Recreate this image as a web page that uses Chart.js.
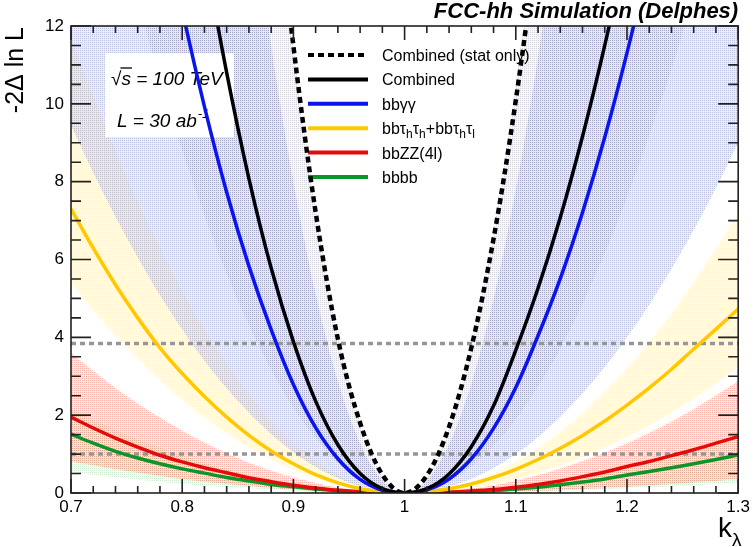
<!DOCTYPE html>
<html>
<head>
<meta charset="utf-8">
<script src="https://cdn.jsdelivr.net/npm/chart.js@4.4.0/dist/chart.umd.min.js"></script>
<style>
html, body { margin: 0; padding: 0; background: #fff; }
#wrap { width: 754px; height: 547px; }
</style>
</head>
<body>
<div id="wrap"><canvas id="nll" width="754" height="547"></canvas></div>
<script>
// k_lambda scan points
var kl = [0.70, 0.72, 0.74, 0.76, 0.78, 0.80, 0.82, 0.84, 0.86, 0.88, 0.90, 0.92, 0.94, 0.96, 0.98, 1.00,
          1.02, 1.04, 1.06, 1.08, 1.10, 1.12, 1.14, 1.16, 1.18, 1.20, 1.22, 1.24, 1.26, 1.28, 1.30];

// -2 Delta ln L curves
var statOnly = [112, 97, 83, 70, 58.5, 48, 38.5, 30.2, 23, 16.8, 11.49, 7.22, 3.96, 1.80, 0.47, 0,
                0.45, 1.70, 3.73, 6.53, 10.09, 14.4, 19.5, 25.3, 32, 39, 47, 56, 65.5, 76, 87];
var combined = [40, 35, 30, 25.4, 21.2, 17.4, 13.94, 10.80, 8.08, 5.78, 3.89, 2.36, 1.24, 0.50, 0.11, 0,
                0.11, 0.49, 1.19, 2.24, 3.67, 5.26, 7.08, 9.16, 11.50, 14.1, 16.9, 20, 23.3, 27, 31];
var bbgg = [28.8, 25, 21.5, 18.2, 15.2, 12.41, 9.93, 7.73, 5.83, 4.20, 2.79, 1.68, 0.88, 0.35, 0.07, 0,
            0.08, 0.36, 0.88, 1.66, 2.71, 4.04, 5.51, 7.21, 9.14, 11.31, 13.7, 16.3, 19.1, 22.2, 25.5];
var bbtt = [7.30, 6.29, 5.35, 4.50, 3.73, 3.07, 2.48, 1.95, 1.48, 1.08, 0.75, 0.47, 0.26, 0.11, 0.03, 0,
            0.03, 0.11, 0.23, 0.40, 0.61, 0.86, 1.15, 1.48, 1.85, 2.26, 2.70, 3.18, 3.70, 4.21, 4.73];
var bbzz = [1.95, 1.67, 1.41, 1.18, 0.97, 0.80, 0.65, 0.52, 0.39, 0.29, 0.20, 0.13, 0.07, 0.03, 0.01, 0,
            0.00, 0.02, 0.05, 0.09, 0.15, 0.22, 0.31, 0.42, 0.54, 0.68, 0.81, 0.96, 1.11, 1.28, 1.45];
var bbbb = [1.51, 1.28, 1.07, 0.90, 0.75, 0.62, 0.51, 0.40, 0.31, 0.22, 0.16, 0.10, 0.06, 0.02, 0.01, 0,
            0.00, 0.01, 0.03, 0.06, 0.10, 0.15, 0.21, 0.28, 0.36, 0.46, 0.55, 0.65, 0.75, 0.86, 0.98];

// uncertainty bands (upper / lower edge)
var combHi = [103.5, 90.2, 77.7, 66.2, 55.7, 46, 37.3, 29.4, 22.5, 16.6, 11.5, 7.36, 4.14, 1.84, 0.46, 0,
              0.42, 1.68, 3.78, 6.72, 10.5, 15.1, 20.6, 26.9, 34.0, 42, 50.8, 60.5, 71, 82.3, 94.5];
var combLo = [19.8, 17.2, 14.9, 12.7, 10.6, 8.8, 7.13, 5.63, 4.31, 3.17, 2.2, 1.41, 0.79, 0.35, 0.09, 0,
              0.08, 0.30, 0.68, 1.22, 1.9, 2.74, 3.72, 4.86, 6.16, 7.6, 9.2, 10.9, 12.8, 14.9, 17.1];
var bbggHi = [72, 62.7, 54.1, 46.1, 38.7, 32, 25.9, 20.5, 15.7, 11.5, 8, 5.12, 2.88, 1.28, 0.32, 0,
              0.31, 1.25, 2.81, 4.99, 7.8, 11.2, 15.3, 20, 25.3, 31.2, 37.8, 44.9, 52.7, 61.2, 70.2];
var bbggLo = [9.45, 8.23, 7.1, 6.05, 5.08, 4.2, 3.4, 2.69, 2.06, 1.51, 1.05, 0.67, 0.38, 0.17, 0.04, 0,
              0.04, 0.16, 0.36, 0.64, 1, 1.44, 1.96, 2.56, 3.24, 4, 4.84, 5.76, 6.76, 7.84, 9];
var bbttHi = [11.7, 10.2, 8.79, 7.49, 6.29, 5.2, 4.21, 3.33, 2.55, 1.87, 1.3, 0.83, 0.47, 0.21, 0.05, 0,
              0.03, 0.13, 0.29, 0.51, 0.8, 1.15, 1.57, 2.05, 2.59, 3.2, 3.87, 4.61, 5.41, 6.27, 7.2];
var bbttLo = [5.4, 4.7, 4.06, 3.46, 2.9, 2.4, 1.94, 1.54, 1.18, 0.86, 0.6, 0.38, 0.22, 0.1, 0.02, 0,
              0.01, 0.06, 0.13, 0.23, 0.36, 0.52, 0.71, 0.92, 1.17, 1.44, 1.74, 2.07, 2.43, 2.82, 3.24];
var bbzzHi = [3.6, 3.14, 2.7, 2.3, 1.94, 1.6, 1.3, 1.02, 0.78, 0.58, 0.4, 0.26, 0.14, 0.06, 0.02, 0,
              0.01, 0.05, 0.12, 0.2, 0.32, 0.46, 0.63, 0.82, 1.04, 1.28, 1.55, 1.84, 2.16, 2.51, 2.88];
var bbzzLo = [0.81, 0.71, 0.61, 0.52, 0.44, 0.36, 0.29, 0.23, 0.18, 0.13, 0.09, 0.06, 0.03, 0.01, 0, 0,
              0, 0.01, 0.01, 0.03, 0.04, 0.06, 0.08, 0.1, 0.13, 0.16, 0.19, 0.23, 0.27, 0.31, 0.36];
var bbbbHi = [2.16, 1.88, 1.62, 1.38, 1.16, 0.96, 0.78, 0.61, 0.47, 0.35, 0.24, 0.15, 0.09, 0.04, 0.01, 0,
              0.01, 0.03, 0.06, 0.11, 0.17, 0.24, 0.33, 0.44, 0.55, 0.68, 0.82, 0.98, 1.15, 1.33, 1.53];
var bbbbLo = [0.54, 0.47, 0.41, 0.35, 0.29, 0.24, 0.19, 0.15, 0.12, 0.09, 0.06, 0.04, 0.02, 0.01, 0, 0,
              0, 0, 0.01, 0.02, 0.03, 0.04, 0.06, 0.08, 0.1, 0.12, 0.15, 0.17, 0.2, 0.24, 0.27];

// 1 sigma / 95% CL lines
var thresholds = [1, 3.84];

var xTickVals = [0.7, 0.8, 0.9, 1.0, 1.1, 1.2, 1.3];
var xTickLabels = ['0.7', '0.8', '0.9', '1', '1.1', '1.2', '1.3'];
var yTickVals = [0, 2, 4, 6, 8, 10, 12];
var yTickLabels = ['0', '2', '4', '6', '8', '10', '12'];

var FONT = "'Liberation Sans', Arial, sans-serif";

var canvas = document.getElementById('nll');
var ctx = canvas.getContext('2d');

function pts(arr) {
    return kl.map(function (x, i) { return { x: x, y: arr[i] }; });
}

// ROOT-like dotted fill
function dots(rgb, aDot, aBase) {
    var c = document.createElement('canvas');
    c.width = 2; c.height = 2;
    var g = c.getContext('2d');
    g.fillStyle = 'rgba(' + rgb + ',' + aBase + ')';
    g.fillRect(0, 0, 2, 2);
    g.clearRect(0, 0, 1, 1);
    g.fillStyle = 'rgba(' + rgb + ',' + aDot + ')';
    g.fillRect(0, 0, 1, 1);
    return ctx.createPattern(c, 'repeat');
}

function curve(data, color, width, dash) {
    return {
        data: pts(data), borderColor: color, borderWidth: width, borderDash: dash || [],
        pointRadius: 0, fill: false, cubicInterpolationMode: 'monotone'
    };
}
function hline(v) {
    return {
        data: [{ x: kl[0], y: v }, { x: kl[kl.length - 1], y: v }],
        borderColor: 'rgb(150,150,150)', borderWidth: 3.5, borderDash: [5, 4],
        pointRadius: 0, fill: false
    };
}
function bandEdge(data, fill, bg) {
    return {
        data: pts(data), borderWidth: 0, borderColor: 'rgba(0,0,0,0)', pointRadius: 0,
        fill: fill, backgroundColor: bg, cubicInterpolationMode: 'monotone'
    };
}

var datasets = [
    curve(statOnly, '#000', 4.5, [6, 4]),
    curve(combined, '#000', 3.5),
    curve(bbgg, 'rgb(10,20,235)', 3.5),
    curve(bbtt, 'rgb(255,200,0)', 3.5),
    curve(bbzz, 'rgb(230,10,10)', 3.5),
    curve(bbbb, 'rgb(10,150,40)', 3.5),
    hline(thresholds[0]),
    hline(thresholds[1]),
    bandEdge(combHi, '+1', dots('110,110,135', 0.3, 0.05)),
    bandEdge(combLo, false),
    bandEdge(bbggHi, '+1', dots('100,112,180', 0.42, 0.13)),
    bandEdge(bbggLo, false),
    bandEdge(bbttHi, '+1', dots('255,210,80', 0.25, 0.08)),
    bandEdge(bbttLo, false),
    bandEdge(bbzzHi, '+1', dots('235,90,70', 0.45, 0.14)),
    bandEdge(bbzzLo, false),
    bandEdge(bbbbHi, '+1', dots('80,180,90', 0.25, 0.05)),
    bandEdge(bbbbLo, false)
];
var firstBand = 8;

var legendRows = [
    { color: '#000', dash: [6, 4], parts: [['Combined (stat only)']] },
    { color: '#000', parts: [['Combined']] },
    { color: 'rgb(10,20,235)', parts: [['bbγγ']] },
    { color: 'rgb(255,200,0)', parts: [['bbτ'], ['h', 1], ['τ'], ['h', 1], ['+bbτ'], ['h', 1], ['τ'], ['l', 1]] },
    { color: 'rgb(230,10,10)', parts: [['bbZZ(4l)']] },
    { color: 'rgb(10,150,40)', parts: [['bbbb']] }
];

function drawParts(c, parts, x, y) {
    parts.forEach(function (p) {
        c.font = p[1] ? '12px ' + FONT : '16px ' + FONT;
        c.fillText(p[0], x, y + (p[1] ? 4 : 0));
        x += c.measureText(p[0]).width;
    });
}

function drawBoxes(chart) {
    var c = chart.ctx;
    c.save();
    // text box
    c.fillStyle = '#fff';
    c.fillRect(105, 53, 129, 84);
    c.fillStyle = '#000';
    c.textBaseline = 'alphabetic';
    c.font = 'italic 19px ' + FONT;
    c.fillText('\u221A', 111, 85);
    var w = c.measureText('\u221A').width;
    var ws = c.measureText('s').width;
    c.fillText('s = 100 TeV', 111 + w, 85);
    c.lineWidth = 1.3;
    c.beginPath(); c.moveTo(111 + w - 1, 68); c.lineTo(111 + w + ws + 1, 68); c.stroke();
    c.fillText('L = 30 ab', 117, 127);
    var wl = c.measureText('L = 30 ab').width;
    c.font = 'italic 13px ' + FONT;
    c.fillText('-1', 117 + wl + 1, 118);

    // legend
    legendRows.forEach(function (r, i) {
        var y = 55 + i * 24.4;
        c.strokeStyle = r.color;
        c.lineWidth = 4;
        c.setLineDash(r.dash || []);
        c.beginPath(); c.moveTo(308, y); c.lineTo(368, y); c.stroke();
        c.setLineDash([]);
        c.fillStyle = '#000';
        drawParts(c, r.parts, 382, y + 6);
    });
    c.restore();
}

function drawFrame(chart) {
    var c = chart.ctx, a = chart.chartArea, xs = chart.scales.x, ys = chart.scales.y;
    c.save();
    c.strokeStyle = '#222';
    c.lineWidth = 1.6;
    c.beginPath();
    for (var i = 0; i <= 30; i++) {
        var px = xs.getPixelForValue(0.7 + i * 0.02);
        var len = (i % 5 === 0) ? 14 : 7;
        c.moveTo(px, a.bottom); c.lineTo(px, a.bottom - len);
        c.moveTo(px, a.top); c.lineTo(px, a.top + len);
    }
    for (var j = 0; j <= 24; j++) {
        var py = ys.getPixelForValue(j * 0.5);
        var l2 = (j % 4 === 0) ? 20 : 10;
        c.moveTo(a.left, py); c.lineTo(a.left + l2, py);
        c.moveTo(a.right, py); c.lineTo(a.right - l2, py);
    }
    c.stroke();
    c.strokeRect(a.left, a.top, a.right - a.left, a.bottom - a.top);

    c.fillStyle = '#000';
    // y title
    c.save();
    c.translate(16, 27);
    c.rotate(-Math.PI / 2);
    c.font = '25px ' + FONT;
    c.textAlign = 'right';
    c.textBaseline = 'middle';
    c.fillText('-2\u0394 ln L', 0, 0);
    c.restore();
    // x title
    c.textBaseline = 'alphabetic';
    c.font = '28px ' + FONT;
    c.fillText('k', 718, 537);
    c.font = '19px ' + FONT;
    c.fillText('\u03BB', 732, 546);
    // top title
    c.font = 'bold italic 22px ' + FONT;
    c.textAlign = 'right';
    c.fillText('FCC-hh Simulation (Delphes)', a.right, 18);
    c.restore();
}

var framePlugin = {
    id: 'rootFrame',
    beforeDatasetsDraw: function (chart) { chart.$boxesDone = false; },
    beforeDatasetDraw: function (chart, args) {
        if (!chart.$boxesDone && args.index < firstBand) {
            drawBoxes(chart);
            chart.$boxesDone = true;
        }
    },
    afterDraw: function (chart) { drawFrame(chart); }
};

var chart = new Chart(ctx, {
    type: 'line',
    data: { datasets: datasets },
    plugins: [framePlugin],
    options: {
        responsive: false,
        animation: false,
        events: [],
        devicePixelRatio: 1,
        layout: { padding: { top: 26, right: 13, left: 0, bottom: 0 } },
        plugins: { legend: { display: false }, tooltip: { enabled: false } },
        scales: {
            x: {
                type: 'linear', min: 0.7, max: 1.3,
                afterBuildTicks: function (s) { s.ticks = xTickVals.map(function (v) { return { value: v }; }); },
                afterFit: function (s) { s.height = 54; },
                grid: { display: false, drawTicks: false },
                border: { display: false },
                ticks: {
                    autoSkip: false, maxRotation: 0, padding: 4, color: '#000',
                    font: { family: FONT, size: 17 },
                    callback: function (v, i) { return xTickLabels[i]; }
                }
            },
            y: {
                type: 'linear', min: 0, max: 12,
                afterBuildTicks: function (s) { s.ticks = yTickVals.map(function (v) { return { value: v }; }); },
                afterFit: function (s) { s.width = 71; },
                grid: { display: false, drawTicks: false },
                border: { display: false },
                ticks: {
                    autoSkip: false, padding: 7, color: '#000',
                    font: { family: FONT, size: 17 },
                    callback: function (v, i) { return yTickLabels[i]; }
                }
            }
        }
    }
});
</script>
</body>
</html>
